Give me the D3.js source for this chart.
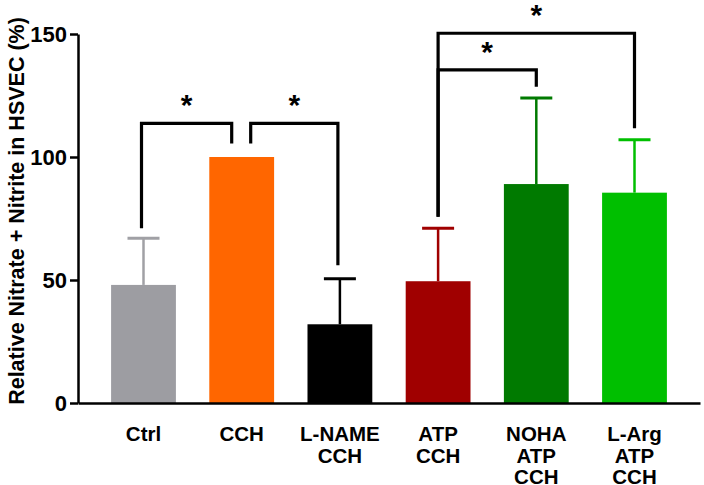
<!DOCTYPE html>
<html><head><meta charset="utf-8">
<script src="https://cdn.jsdelivr.net/npm/d3@7"></script>
<style>body{margin:0;background:#fff}svg{display:block}text{font-family:Arial,"Liberation Sans",sans-serif;font-weight:bold}</style>
</head><body>
<svg id="chart" width="704" height="485"></svg>
<script>
const categories = [["Ctrl"],["CCH"],["L-NAME","CCH"],["ATP","CCH"],["NOHA","ATP","CCH"],["L-Arg","ATP","CCH"]];
const means = [48, 100, 32, 49.5, 89, 85.5];
const errors = [19, 0, 18.5, 21.5, 35, 21.5];
const colors = ["#9d9da2","#ff6600","#000000","#a00000","#007a00","#00bf00"];
const errColors = ["#a0a0a5","#ff6600","#000000","#a00000","#007a00","#00bf00"];
const yTicks = [0, 50, 100, 150];
// brackets: [fromIndex, fromOffsetPx, fromBottom, toIndex, toOffsetPx, toBottom, topValue]
const brackets = [
  [0, -2, 71, 1, -10, 105.5, 113.7],
  [1, 9, 105.5, 2, -2, 56, 113.7],
  [3, 0, 75.7, 4, 0, 128.6, 135.4],
  [3, 0, 75.7, 5, 0, 111.7, 150.3]
];

const svg = d3.select("#chart");
const keys = categories.map((c,i)=>i);
const x = d3.scaleBand().domain(keys).range([78, 700]).paddingInner(0.34).paddingOuter(0.337);
const y = d3.scaleLinear().domain([0,150]).range([403, 34]);

// bars
svg.selectAll("rect.bar").data(means).join("rect")
  .attr("x",(d,i)=>x(i)).attr("width",x.bandwidth())
  .attr("y",d=>y(d)).attr("height",d=>y(0)-y(d))
  .attr("fill",(d,i)=>colors[i]);

// error bars
const eg = svg.append("g");
means.forEach((m,i)=>{
  if(!errors[i]) return;
  const cx = x(i)+x.bandwidth()/2;
  eg.append("line").attr("x1",cx).attr("x2",cx).attr("y1",y(m)).attr("y2",y(m+errors[i]))
    .attr("stroke",errColors[i]).attr("stroke-width",2.5);
  eg.append("line").attr("x1",cx-16).attr("x2",cx+16).attr("y1",y(m+errors[i])).attr("y2",y(m+errors[i]))
    .attr("stroke",errColors[i]).attr("stroke-width",3);
});

// brackets
const bg = svg.append("g");
brackets.forEach(b=>{
  const x1 = x(b[0])+x.bandwidth()/2+b[1];
  const x2 = x(b[3])+x.bandwidth()/2+b[4];
  bg.append("path").attr("d",`M${x1},${y(b[2])}V${y(b[6])}H${x2}V${y(b[5])}`)
    .attr("fill","none").attr("stroke","#000").attr("stroke-width",3.2);
  bg.append("text").attr("x",(x1+x2)/2).attr("y",y(b[6])-8).attr("text-anchor","middle")
    .attr("font-size",30).text("*");
});

// y axis
const ya = svg.append("g").attr("transform","translate(78,0)")
  .call(d3.axisLeft(y).tickValues(yTicks).tickSize(8).tickPadding(3).tickSizeOuter(0));
ya.select(".domain").attr("stroke","#000").attr("stroke-width",2.5);
ya.selectAll(".tick line").attr("stroke","#000").attr("stroke-width",2.5);
ya.selectAll(".tick text").attr("font-size",22).attr("font-family","Arial, 'Liberation Sans', sans-serif").attr("font-weight","bold").attr("fill","#000");

// x axis line
const xa = svg.append("g").attr("transform","translate(0,403)")
  .call(d3.axisBottom(x).tickSize(0).tickFormat(""));
xa.select(".domain").attr("stroke","#000").attr("stroke-width",2.5);

// x labels
categories.forEach((lines,i)=>{
  const cx = x(i)+x.bandwidth()/2;
  const t = svg.append("text").attr("text-anchor","middle").attr("font-size",20.5).attr("fill","#000");
  lines.forEach((l,j)=>t.append("tspan").attr("x",cx).attr("y",441+j*21.5).text(l));
});

// y label
svg.append("text").attr("transform","translate(24,211) rotate(-90)").attr("text-anchor","middle")
  .attr("font-size",21.5).attr("fill","#000").text("Relative Nitrate + Nitrite in HSVEC (%)");
</script>
</body></html>
